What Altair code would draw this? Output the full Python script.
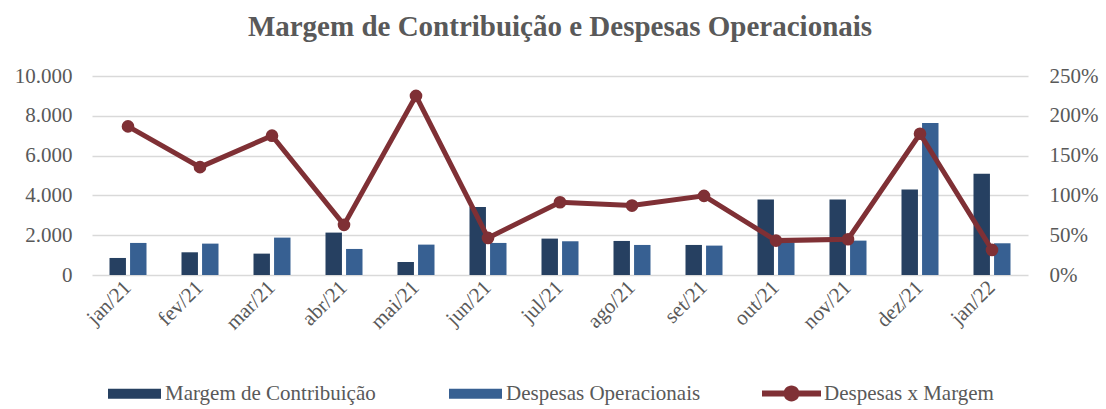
import altair as alt
import pandas as pd

# ---- data ----
meses = ["jan/21", "fev/21", "mar/21", "abr/21", "mai/21", "jun/21", "jul/21",
         "ago/21", "set/21", "out/21", "nov/21", "dez/21", "jan/22"]
margem = [856, 1141, 1074, 2131, 654, 3423, 1829, 1711, 1510, 3792, 3792, 4295, 5084]
despesas = [1611, 1577, 1879, 1309, 1527, 1611, 1695, 1510, 1477, 1644, 1728, 7634, 1594]
despesas_x_margem = [186.7, 135.5, 175.0, 63.0, 225.0, 46.6, 91.4, 87.2, 99.4, 43.2, 44.9, 177.4, 31.5]

y_ticks = [0, 2000, 4000, 6000, 8000, 10000]
pct_ticks = [0, 50, 100, 150, 200, 250]

serie_m = "Margem de Contribuição"
serie_d = "Despesas Operacionais"
serie_l = "Despesas x Margem"
titulo = "Margem de Contribuição e Despesas Operacionais"

df_bars = pd.DataFrame({
    "mes": meses * 2,
    "serie": [serie_m] * len(meses) + [serie_d] * len(meses),
    "valor": margem + despesas,
})
df_line = pd.DataFrame({"mes": meses, "serie": [serie_l] * len(meses), "pct": despesas_x_margem})

# ---- style ----
FONT = "Liberation Serif"
GRAY = "#595959"
GRID = "#D9D9D9"
DARK = "#264061"
LIGHT = "#376092"
RED = "#7F3035"

RECT_PATH = "M-1,-0.19H1V0.19H-1Z"
LINE_PATH = ("M-1,-0.1H1V0.1H-1Z M0.27,0A0.27,0.27 0 1,1 -0.27,0"
             "A0.27,0.27 0 1,1 0.27,0Z")

xscale = alt.Scale(type="band", domain=meses, paddingInner=0.486, paddingOuter=0.243)
xaxis = alt.Axis(title=None, labelAngle=-45, labelAlign="right", labelBaseline="middle",
                 labelFont=FONT, labelFontSize=21, labelColor=GRAY, ticks=False,
                 domain=False, labelPadding=9, grid=False, labelOverlap=False)

pct_scale = alt.Scale(domain=[0, 250], nice=False)
pct_axis = alt.Axis(title=None, orient="right", values=pct_ticks, tickCount=6,
                    labelExpr="datum.value + '%'", grid=False, domain=False,
                    ticks=False, labelPadding=21, labelFont=FONT,
                    labelFontSize=21, labelColor=GRAY, labelOverlap=False)

bars = alt.Chart(df_bars).mark_bar().encode(
    x=alt.X("mes:N", sort=meses, scale=xscale, axis=xaxis),
    xOffset=alt.XOffset("serie:N", sort=[serie_m, serie_d],
                        scale=alt.Scale(paddingInner=0.2, paddingOuter=0)),
    y=alt.Y("valor:Q", scale=alt.Scale(domain=[0, 10000], nice=False),
            axis=alt.Axis(title=None, orient="left", values=y_ticks,
                          labelExpr="replace(format(datum.value, ','), ',', '.')",
                          gridColor=GRID, gridWidth=1.5, domain=False, ticks=False,
                          labelPadding=20, labelFont=FONT, labelFontSize=21,
                          labelColor=GRAY, labelOverlap=False)),
    color=alt.Color("serie:N",
                    scale=alt.Scale(domain=[serie_m, serie_d], range=[DARK, LIGHT]),
                    legend=alt.Legend(title=None, orient="none", legendX=16, legendY=291,
                                      direction="horizontal", symbolType=RECT_PATH,
                                      symbolSize=2809, symbolStrokeWidth=0,
                                      labelFont=FONT, labelFontSize=21, labelColor=GRAY,
                                      labelOffset=4, columnPadding=73, labelLimit=0)),
)

line = alt.Chart(df_line).mark_line(color=RED, strokeWidth=5).encode(
    x=alt.X("mes:N", sort=meses, scale=xscale, axis=xaxis),
    y=alt.Y("pct:Q", scale=pct_scale, axis=pct_axis),
)

points = alt.Chart(df_line).mark_point(filled=True, size=160, opacity=1).encode(
    x=alt.X("mes:N", sort=meses, scale=xscale, axis=xaxis),
    y=alt.Y("pct:Q", scale=pct_scale, axis=pct_axis),
    fill=alt.Fill("serie:N", scale=alt.Scale(domain=[serie_l], range=[RED]),
                  legend=alt.Legend(title=None, orient="none", legendX=670, legendY=288,
                                    direction="horizontal", symbolType=LINE_PATH,
                                    symbolSize=3481, symbolStrokeWidth=0,
                                    labelFont=FONT, labelFontSize=21, labelColor=GRAY,
                                    labelOffset=3, labelLimit=0)),
)

chart = alt.layer(bars, alt.layer(line, points)).resolve_scale(
    y="independent", color="independent", fill="independent"
).properties(
    width=936,
    height=199,
    title=alt.Title(titulo, font=FONT, fontSize=29, fontWeight="bold", color=GRAY,
                    anchor="middle", offset=23),
    padding={"left": 92, "top": 76, "right": 78, "bottom": 134},
    autosize=alt.AutoSizeParams(type="none"),
    background="white",
).configure_view(stroke=None)

chart.save("out.html", embed_options={"renderer": "svg", "actions": False})
